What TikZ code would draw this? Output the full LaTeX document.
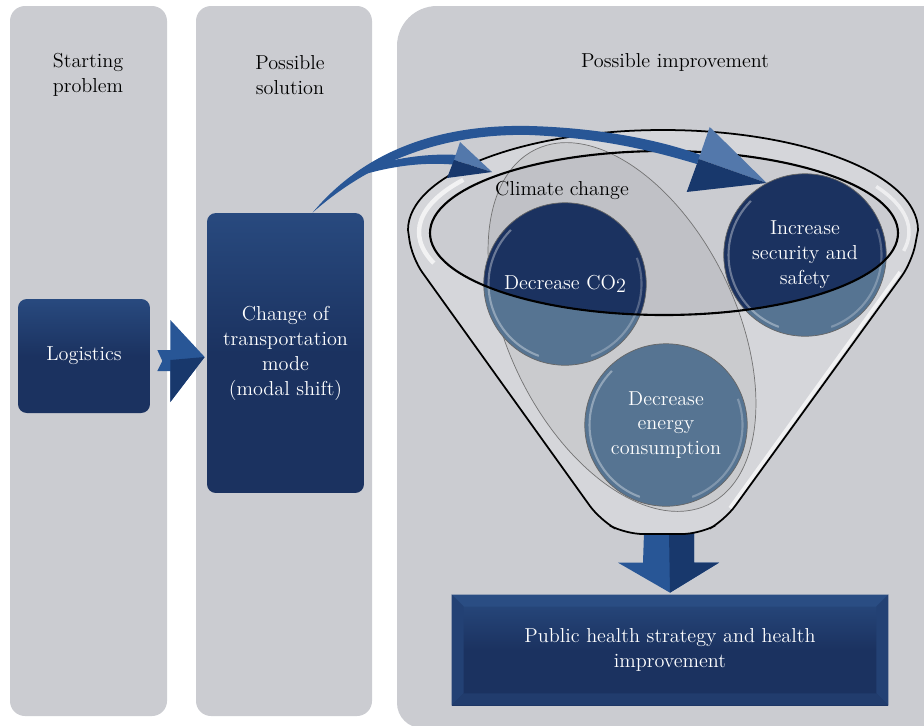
\documentclass[tikz,border=0pt]{standalone}
\usepackage{tikz}
\usetikzlibrary{arrows.meta,positioning,calc,shapes.geometric}
\definecolor{lanegray}{RGB}{203,204,209}
\definecolor{navy}{RGB}{27,50,96}
\definecolor{navyhi}{RGB}{46,84,140}
\definecolor{steel}{RGB}{86,116,146}
\definecolor{arrowblue}{RGB}{40,86,150}
\definecolor{arrowdark}{RGB}{24,56,108}
\definecolor{funnelgray}{RGB}{213,214,218}
\newcommand\labfont{\fontsize{11.5pt}{14.2pt}\selectfont}

\begin{document}
\begin{tikzpicture}[
  x=0.02cm, y=-0.02cm,
  lane/.style={fill=lanegray},
  title/.style={align=center, font=\labfont},
  navybox/.style={rounded corners=5pt, top color=navyhi!70!navy, bottom color=navy,
    middle color=navy, text=white, align=center, font=\labfont, inner sep=0pt},
  ball/.style={circle, minimum size=3.25cm, fill=steel, inner sep=0pt},
  balltext/.style={text=white, align=center, font=\labfont},
  hilite/.style={white, opacity=.35, line width=1.2pt},
  rim/.style={draw=black, line width=1pt}
]
\useasboundingbox (0,0) rectangle (924,725);

% lanes
\fill[lane, rounded corners=0.3cm] (10,6) rectangle (167,716);
\fill[lane, rounded corners=0.3cm] (196,6) rectangle (372,716);
\fill[lane] (980,6) [rounded corners=0.8cm] -- (397,6)
  [rounded corners=0.5cm] -- (397,728) [sharp corners] -- (980,728) -- cycle;

\node[title] (tstart) at (88,75) {Starting\\problem};
\node[title] (tsol) at (290,75) {Possible\\solution};
\node[title] (timp) at (675,62) {Possible improvement};

% boxes
\node[navybox, minimum width=2.64cm, minimum height=2.28cm] (logi) at (84,356) {Logistics};
\node[navybox, minimum width=3.14cm, minimum height=5.6cm] (chg) at (285.5,353)
  {Change of\\transportation\\mode\\(modal shift)};
\node[navybox, rounded corners=0pt, minimum width=8.72cm, minimum height=2.2cm] (pub) at (670,650) {};

% bevel of the bottom box
\fill[navyhi!80!navy] (pub.north west) -- (pub.north east) -- ($(pub.north east)+(-12,12)$)
  -- ($(pub.north west)+(12,12)$) -- cycle;
\fill[navyhi!45!navy] (pub.north west) -- ($(pub.north west)+(12,12)$)
  -- ($(pub.south west)+(12,-12)$) -- (pub.south west) -- cycle;
\fill[navyhi!45!navy] (pub.north east) -- ($(pub.north east)+(-12,12)$)
  -- ($(pub.south east)+(-12,-12)$) -- (pub.south east) -- cycle;
\fill[navyhi!30!navy] (pub.south west) -- ($(pub.south west)+(12,-12)$)
  -- ($(pub.south east)+(-12,-12)$) -- (pub.south east) -- cycle;
\node[balltext] (pubtxt) at (pub) {Public health strategy and health\\improvement};

% chevron
\fill[arrowblue] ($(logi.east)+(7,-6)$) -- ++(13,0) -- ++(0,-30) -- ($(chg.west)+(-2,4)$)
  -- ($(logi.east)+(20,46)$) -- ++(0,-31) -- ++(-13,0) -- ++(5,-10) -- cycle;
\fill[arrowdark] ($(logi.east)+(20,4)$) -- ($(chg.west)+(-2,4)$) -- ($(logi.east)+(20,46)$) -- cycle;

% bottom arrow
\fill[arrowblue] ($(pub.north)+(-26,-62)$) -- ++(50,0) -- ++(0,30) -- ++(25,0)
  -- ($(pub.north)+(0,-2)$) -- ++(-52,-30) -- ++(25,0) -- cycle;
\fill[arrowdark] ($(pub.north)+(-1,-62)$) -- ++(25,0) -- ++(0,30) -- ++(25,0)
  -- ($(pub.north)+(0,-2)$) -- cycle;

% funnel body
\fill[funnelgray, even odd rule] (408,230)
  arc[start angle=180, end angle=360, x radius=255, y radius=100]
  [rounded corners=10pt] -- (912,262) -- (725,520) -- (700,534) -- (625,534)
  -- (600,520) -- (412,258) [sharp corners] -- cycle
  (664,233) ellipse[x radius=234, y radius=82];

\node[ellipse, draw=black!55, line width=.4pt, fill=black, fill opacity=.05,
  minimum width=7.9cm, minimum height=4.55cm, rotate=-64] (clim) at (622,327) {};

% circles
\node[ball] (co2) at (565,284) {};
\node[ball] (sec) at (805,255) {};
\node[ball] (nrg) at (666,425) {};
\begin{scope}
  \clip (664,233) ellipse[x radius=234, y radius=82];
  \fill[navy] (co2) circle[radius=1.625cm];
  \fill[navy] (sec) circle[radius=1.625cm];
\end{scope}
\foreach \b in {co2,sec,nrg} {
  \draw[black!60, line width=.4pt] (\b) circle[radius=1.625cm];
  \draw[hilite] ($(\b.center)+(135:1.53cm)$) arc[start angle=135, end angle=250, radius=1.53cm];
  \draw[hilite, opacity=.25] ($(\b.center)+(-70:1.53cm)$) arc[start angle=-70, end angle=20, radius=1.53cm];
}

\node[font=\labfont] (climlab) at (562,190) {Climate change};

% glass highlights
\draw[white, opacity=.7, line width=2.5pt] (664,232)
  ++(215:245 and 91) arc[start angle=215, end angle=160, x radius=245, y radius=91];
\draw[white, opacity=.6, line width=2pt] (664,232)
  ++(330:245 and 91) arc[start angle=330, end angle=372, x radius=245, y radius=91];
\draw[white, opacity=.7, line width=2pt] (900,272) -- (730,508);

\draw[rim] (408,230)
  arc[start angle=180, end angle=360, x radius=255, y radius=100]
  [rounded corners=10pt] -- (912,262) -- (725,520) -- (700,534) -- (625,534)
  -- (600,520) -- (412,258) [sharp corners] -- cycle;
\draw[rim, line width=1.2pt] (664,233) ellipse[x radius=234, y radius=82];

% ball labels
\node[balltext] (co2txt) at (co2) {Decrease CO\raisebox{-.35ex}{2}};
\node[balltext] (sectxt) at (sec) {Increase\\security and\\safety};
\node[balltext] (nrgtxt) at (nrg) {Decrease\\energy\\consumption};

% curved arrows
\coordinate (tail) at ($(chg.north)+(27,0)$);
\coordinate (tipA) at (492,172);
\coordinate (tipB) at (sec.118);
\fill[arrowblue] (360,170) .. controls (390,158) and (430,153) .. (458,155)
  -- (458,165) .. controls (430,162) and (395,164) .. (352,178) -- cycle;
\fill[arrowblue] (tail) .. controls (365,150) and (440,124) .. (530,126)
  .. controls (600,128) and (660,140) .. ($(tipB)+(-66,-28)$)
  -- ($(tipB)+(-70,-19)$) .. controls (650,150) and (600,138) .. (530,135)
  .. controls (445,133) and (372,160) .. (tail) -- cycle;
\fill[arrowblue!80!white] ($(tipA)+(-32,-30)$) -- (tipA) -- ($(tipA)+(-38,-12)$) -- cycle;
\fill[arrowdark] ($(tipA)+(-38,-12)$) -- (tipA) -- ($(tipA)+(-45,6)$) -- cycle;
\fill[arrowblue!80!white] ($(tipB)+(-57,-56)$) -- (tipB) -- ($(tipB)+(-68,-24)$) -- cycle;
\fill[arrowdark] ($(tipB)+(-68,-24)$) -- (tipB) -- ($(tipB)+(-80,9)$) -- cycle;
\end{tikzpicture}
\end{document}
